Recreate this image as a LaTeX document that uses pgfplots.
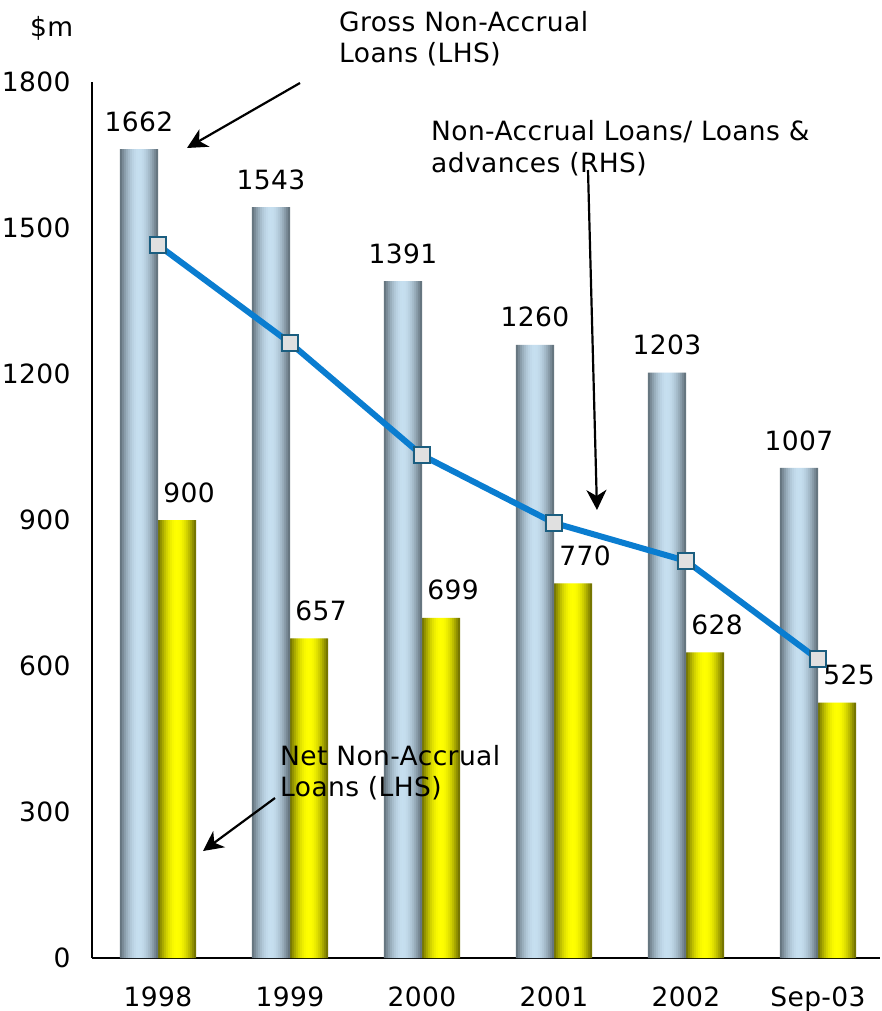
\documentclass[border=0pt]{standalone}
\usepackage{pgfplots}
\usepackage{pgfplotstable}
\pgfplotsset{compat=1.18}
\usetikzlibrary{arrows.meta}
\usepackage{fontspec}
\setmainfont{DejaVu Sans}[LetterSpace=1.5]
\definecolor{gdark}{HTML}{5A6973}
\definecolor{glight}{HTML}{C6DFF0}
\definecolor{ydark}{HTML}{666600}
\definecolor{ylight}{HTML}{FFFF00}
\definecolor{lineblue}{HTML}{0A7DD0}
\definecolor{mkedge}{HTML}{1B5E80}
\definecolor{mkfill}{HTML}{E0E0E0}
\pgfplotstableread{
x gross net line
0 1662 900 1465
1 1543 657 1264
2 1391 699 1033
3 1260 770 894
4 1203 628 816
5 1007 525 614
}\data
\newcommand\lblfont{\fontsize{26.5}{31}\selectfont}
\begin{document}
\pgfplotsforeachungrouped \i in {0,...,18}{%
  \pgfmathsetmacro\p{100*(sin(180*(\i+0.5)/19))^0.9}%
  \colorlet{gs\i}{glight!\p!gdark}%
  \colorlet{ys\i}{ylight!\p!ydark}%
}%
\begin{tikzpicture}[font=\lblfont]
\begin{axis}[
  at={(92pt,-958pt)}, anchor=south west,
  scale only axis, width=788pt, height=876pt,
  xmin=-0.5, xmax=5.47, ymin=0, ymax=1800,
  axis x line*=bottom, axis y line*=left,
  axis line style={line width=1.5pt},
  xtick={0,...,5}, xticklabels={1998,1999,2000,2001,2002,Sep-03},
  ytick={0,300,...,1800},
  major tick length=0pt,
  tick label style={font=\lblfont},
  /pgf/number format/assume math mode=true,
  /pgf/number format/1000 sep={},
  yticklabel style={xshift=-18pt},
  xticklabel style={yshift=-25pt},
  clip=false,
]
\pgfplotsinvokeforeach{0,...,18}{
  \addplot[ybar, bar width=2.4pt, bar shift={(2*#1-37)*1pt}, draw=none, fill=gs#1, forget plot]
    table[x=x, y=gross]{\data};
  \addplot[ybar, bar width=2.4pt, bar shift={(2*#1+1)*1pt}, draw=none, fill=ys#1, forget plot]
    table[x=x, y=net]{\data};
}
\addplot[ybar, bar width=38pt, bar shift=-19pt, draw=none, fill=none,
  nodes near coords, nodes near coords style={font=\lblfont, text=black, anchor=south, yshift=14pt, xshift=-19pt}]
  table[x=x, y=gross]{\data};
\addplot[ybar, bar width=38pt, bar shift=19pt, draw=none, fill=none,
  nodes near coords, nodes near coords style={font=\lblfont, text=black, anchor=south, yshift=14pt, xshift=31pt}]
  table[x=x, y=net]{\data};
\addplot[lineblue, line width=6pt, mark=square*, mark size=8pt,
  mark options={fill=mkfill, draw=mkedge, line width=2pt}]
  table[x=x, y=line]{\data};
\end{axis}
\begin{scope}[x=1pt, y=-1pt]
  \node[anchor=base west, inner sep=0] at (30,37) {\$m};
  \node[anchor=base west, inner sep=0] at (339,32) {Gross Non-Accrual};
  \node[anchor=base west, inner sep=0] at (339,63) {Loans (LHS)};
  \node[anchor=base west, inner sep=0] at (431,141) {Non-Accrual Loans/ Loans \&};
  \node[anchor=base west, inner sep=0] at (431,172) {advances (RHS)};
  \node[anchor=base west, inner sep=0] at (280,765) {Net Non-Accrual};
  \node[anchor=base west, inner sep=0] at (280,796) {Loans (LHS)};
  \draw[line width=2.2pt, -{Stealth[length=20pt, width=20pt, inset=6pt]}] (300,83) -- (187,148);
  \draw[line width=2.2pt, -{Stealth[length=20pt, width=20pt, inset=6pt]}] (588,170) -- (597,510);
  \draw[line width=2.2pt, -{Stealth[length=20pt, width=20pt, inset=6pt]}] (275,798) -- (203,851);
\end{scope}
\pgfresetboundingbox
\path (0,0) rectangle (882pt,-1011pt);
\end{tikzpicture}
\end{document}
